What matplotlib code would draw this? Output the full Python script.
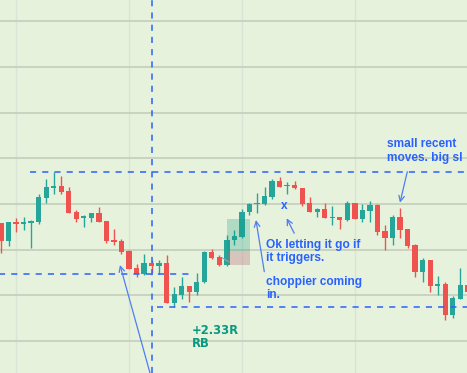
import matplotlib
matplotlib.use('Agg')
import matplotlib.pyplot as plt
import matplotlib.patches as mpatches
import numpy as np

plt.rcParams['font.family'] = ['Liberation Sans', 'DejaVu Sans']

# 蜡烛数据 (open, high, low, close)
opens = [150, 132.3, 151, 149, 150, 151.3, 175.3, 185.3, 187, 182,
         161, 154.7, 155.3, 159.7, 152, 133.3, 132, 122.3, 105.3, 98.7,
         110, 107.3, 110, 70, 78, 87, 81.3, 91, 120.7, 116,
         108, 132.7, 135.7, 160.7, 168.7, 169, 176.3, 192, 187, 188.3,
         185, 170.3, 161, 163.7, 154.7, 156, 153, 170, 154.3, 162.3,
         168.3, 142, 135.3, 156, 144, 128.3, 101.3, 113.3, 87.3, 88.7,
         58, 74.3, 88]
highs = [150, 151, 155.3, 156.3, 153, 179, 194, 201.3, 197, 186,
         163, 158, 160, 166, 152, 144.3, 134.3, 123, 109.3, 119,
         113, 113.3, 118, 85.7, 96, 87, 100.3, 122.3, 124, 118,
         138, 142.7, 163.7, 169.7, 180.3, 185.7, 193.7, 195.7, 191.3, 192,
         185.3, 176.3, 165.3, 169.7, 167, 156, 172, 170, 169.3, 172,
         169, 148, 158.3, 165.3, 144, 129, 115.3, 113.3, 97, 91.3,
         77, 105, 90]
lows = [120, 127.3, 141.3, 143, 125.3, 149, 170.3, 179, 178.7, 160,
        151, 146.3, 151.3, 151, 130.3, 128, 118.7, 104, 96.3, 98.5,
        100, 98.7, 70, 66, 73.7, 71.3, 77.7, 90.3, 114, 107,
        107, 127.7, 135.5, 158, 159.7, 168.5, 173.7, 186, 179, 184.5,
        167, 161, 156.3, 155, 148, 144, 152.5, 154, 151.3, 151,
        137.7, 123, 128, 135.3, 125.3, 96.3, 91.3, 81.3, 78.3, 53,
        54.7, 74, 81]
closes = [132, 150.7, 149, 151, 152, 176, 186, 187, 181.3, 160.3,
          154.5, 156.7, 159.7, 151.3, 132.3, 131.3, 121, 104.3, 98.7, 110,
          107.3, 110, 70, 79, 87, 81.3, 91, 121.3, 114.7, 108,
          133, 136.7, 160.7, 168.7, 170, 177, 192, 186.3, 188.3, 184.7,
          168.7, 161.3, 164.3, 155.3, 156, 153, 170, 154.3, 163, 168.3,
          141, 135.3, 156, 143.3, 127.3, 101.3, 113.3, 87, 88.7, 58,
          75, 88, 81]

# 水平虚线: (价格, 起点, 终点)
levels = [(200.7, 3.85, 62), (98.7, -1, 25.1), (66.3, 20.7, 62)]
vline_x = 20

# 仓位框
pos_left, pos_right = 30, 33.07
entry, target, stop = 122.5, 153.7, 108.3

# 注释文字
notes = [
    (51.26, 222, 'small recent\nmoves. big sl'),
    (35.19, 121.5, 'Ok letting it go if\nit triggers.'),
    (35.19, 84.7, 'choppier coming\nin.'),
]
# 箭头: (尾x, 尾y, 头x, 头y)
arrows = [
    (19.79, 0, 15.8, 108),
    (34.97, 101.3, 33.86, 153),
    (38.95, 139.7, 37.94, 154.7),
    (53.96, 201.3, 52.99, 170.3),
]

BG = '#e7f2dc'
UP = '#26a69a'
DOWN = '#ef5350'
BLUE = '#2962ff'

fig = plt.figure(figsize=(4.67, 3.73), dpi=100, facecolor=BG)
ax = fig.add_axes([0, 0, 1, 1])
ax.set_facecolor(BG)

x = np.arange(len(opens))
o = np.array(opens)
c = np.array(closes)
cols = [UP if cc >= oo else DOWN for oo, cc in zip(o, c)]
ax.vlines(x, lows, highs, colors=cols, linewidth=1.0, zorder=3)
h = np.maximum(np.abs(c - o), 1.3)
ax.bar(x, h, bottom=np.minimum(o, c), width=0.7, color=cols, linewidth=0, zorder=4)

# 网格
ax.set_yticks(np.arange(32, 373, 45.67))
ax.set_xticks([2, 17, 32, 47])
ax.yaxis.grid(True, color='#c3cdbc', linewidth=1.2, zorder=0)
ax.xaxis.grid(True, color='#d8e5d4', linewidth=1.0, zorder=0)
ax.set_axisbelow(True)
ax.tick_params(length=0, labelbottom=False, labelleft=False)
for s in ax.spines.values():
    s.set_visible(False)

# 虚线
for y, x0, x1 in levels:
    ax.hlines(y, x0, x1, colors=BLUE, linestyles=(0, (4, 4)), linewidth=1.1, zorder=5)
ax.axvline(vline_x, color=BLUE, linestyle=(0, (4, 4)), linewidth=1.1, zorder=5)

# 仓位框
ax.add_patch(mpatches.Rectangle((pos_left, entry), pos_right - pos_left, target - entry,
                                facecolor='#089981', alpha=0.25, linewidth=0, zorder=6))
ax.add_patch(mpatches.Rectangle((pos_left, stop), pos_right - pos_left, entry - stop,
                                facecolor='#b45a6e', alpha=0.3, linewidth=0, zorder=6))
ax.plot([29.4, 30.3], [115, 111], color='#9aa3a0', linewidth=0.8, zorder=6)

for tx, ty, s in notes:
    ax.text(tx, ty, s, color=BLUE, fontsize=8.6, fontweight='bold', va='center', ha='left',
            linespacing=1.15, zorder=8)
ax.text(37.58, 167.3, 'x', color=BLUE, fontsize=8.6, fontweight='bold',
        ha='center', va='center', zorder=8)
ax.text(25.3, 36, '+2.33R\nRB', color='#089981', fontsize=8.4, fontweight='bold',
        family='DejaVu Sans', va='center', ha='left', linespacing=0.95, zorder=8)

for x0, y0, x1, y1 in arrows:
    ax.annotate('', xy=(x1, y1), xytext=(x0, y0),
                arrowprops=dict(arrowstyle='->', color='#4f7df5', linewidth=0.9,
                                mutation_scale=10, shrinkA=0, shrinkB=0), zorder=7)

ax.set_xlim(-0.133, 61.89)
ax.set_ylim(0, 373)

plt.savefig('out.png', dpi=100, facecolor=BG)
